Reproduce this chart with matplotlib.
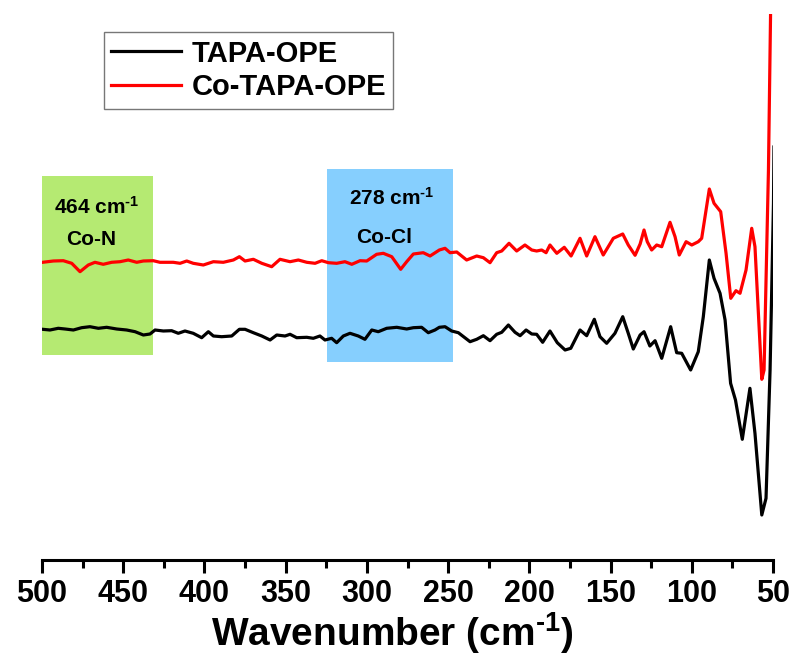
import matplotlib
matplotlib.use("Agg")
import matplotlib.pyplot as plt
from matplotlib.patches import Rectangle

plt.rcParams["font.family"] = ["Liberation Sans", "DejaVu Sans"]
plt.rcParams["font.weight"] = "bold"
plt.rcParams["mathtext.fontset"] = "custom"
plt.rcParams["mathtext.rm"] = "Liberation Sans:bold"
plt.rcParams["mathtext.bf"] = "Liberation Sans:bold"
plt.rcParams["mathtext.default"] = "bf"

# Co-TAPA-OPE (red), wavenumber (cm-1) / intensity (a.u.)
red_wn = [499.6, 493.0, 486.9, 481.7, 476.6, 471.5, 467.4, 462.3, 457.1, 452.0,
          446.9, 441.7, 437.6, 431.5, 427.4, 419.2, 415.0, 410.9, 406.9, 400.7,
          394.5, 388.4, 382.2, 378.5, 375.0, 369.9, 364.7, 358.6, 353.5, 347.3,
          342.2, 337.0, 331.9, 327.8, 323.7, 318.6, 313.5, 309.3, 304.2, 300.1,
          294.0, 289.9, 284.7, 279.2, 275.5, 271.4, 265.3, 261.1, 255.4, 251.9,
          248.8, 244.7, 238.6, 232.4, 228.3, 224.2, 220.1, 217.0, 212.5, 207.8,
          202.7, 198.5, 195.5, 192.4, 189.7, 187.3, 183.1, 178.5, 174.3, 168.8,
          164.7, 159.6, 154.5, 148.3, 142.5, 139.1, 134.9, 131.8, 129.4, 127.4,
          124.7, 121.6, 118.5, 113.4, 110.3, 107.7, 103.5, 100.0, 96.0, 93.9,
          89.2, 86.3, 82.2, 78.9, 76.0, 72.8, 70.3, 66.6, 63.1, 61.1,
          56.9, 55.5, 52.8, 51.5]
red_int = [299.7, 301.0, 301.3, 298.7, 290.3, 297.0, 299.7, 297.7, 299.7, 300.3,
           302.0, 299.7, 301.0, 301.3, 299.7, 299.7, 298.7, 301.0, 298.7, 297.0,
           300.3, 299.7, 302.0, 305.3, 301.0, 302.7, 298.7, 295.3, 302.7, 300.3,
           302.0, 299.7, 298.7, 301.3, 299.3, 298.7, 300.3, 297.7, 301.3, 301.0,
           307.7, 308.7, 305.3, 292.7, 300.3, 308.0, 309.3, 306.0, 312.0, 313.7,
           309.3, 310.0, 302.0, 306.0, 304.3, 299.3, 309.3, 311.0, 318.7, 311.0,
           317.0, 312.0, 311.0, 312.0, 309.3, 317.0, 308.7, 314.7, 306.0, 323.7,
           306.0, 325.3, 307.0, 323.7, 328.0, 317.0, 306.7, 318.0, 332.0, 320.3,
           312.0, 317.0, 315.3, 339.7, 325.3, 307.0, 320.3, 317.0, 320.3, 323.7,
           373.0, 358.7, 350.3, 308.7, 263.7, 271.3, 268.7, 292.0, 333.7, 315.3,
           182.7, 192.0, 392.0, 548.0]

# TAPA-OPE (black)
black_wn = [499.6, 495.1, 490.0, 485.8, 480.7, 475.6, 470.5, 465.3, 460.2, 454.0,
            447.9, 442.7, 437.6, 433.5, 430.4, 425.3, 420.2, 416.1, 412.0, 406.9,
            401.7, 397.6, 394.5, 389.4, 383.2, 378.5, 375.0, 369.9, 364.7, 359.6,
            355.5, 350.4, 347.3, 343.2, 337.0, 333.0, 328.9, 325.8, 321.7, 318.6,
            314.5, 310.4, 305.3, 301.2, 297.0, 293.0, 287.8, 281.6, 275.5, 271.4,
            266.3, 262.2, 258.1, 255.4, 251.9, 247.8, 243.7, 236.5, 232.4, 228.3,
            224.2, 220.1, 217.0, 212.9, 208.8, 205.7, 202.0, 198.5, 195.5, 191.8,
            187.3, 182.8, 178.0, 174.5, 168.8, 164.7, 160.0, 156.5, 152.4, 147.3,
            142.5, 139.1, 136.0, 131.8, 129.4, 125.8, 122.6, 118.5, 113.0, 109.3,
            106.2, 100.7, 96.0, 92.9, 89.2, 86.3, 82.6, 79.5, 76.1, 73.1,
            68.9, 64.2, 61.1, 56.9, 54.3, 51.8, 49.7, 49.4]
black_int = [232.7, 232.0, 233.7, 233.0, 232.0, 234.3, 235.3, 233.7, 234.7, 233.0,
             232.0, 230.3, 227.0, 228.0, 232.0, 231.0, 231.3, 228.7, 231.0, 228.7,
             224.3, 230.3, 226.0, 225.3, 226.0, 232.7, 232.7, 229.3, 226.0, 222.0,
             227.0, 226.0, 227.7, 224.3, 224.7, 223.7, 226.0, 222.0, 223.7, 219.3,
             226.0, 228.7, 226.0, 222.7, 232.0, 230.3, 233.7, 234.7, 233.0, 234.3,
             234.7, 229.3, 232.0, 234.7, 235.3, 231.0, 229.3, 220.3, 222.7, 226.3,
             221.3, 227.7, 229.7, 237.0, 229.7, 226.3, 232.0, 228.0, 227.7, 219.7,
             231.0, 219.3, 212.0, 213.7, 232.0, 226.3, 242.7, 225.3, 218.7, 228.7,
             245.3, 228.7, 213.0, 227.0, 230.3, 216.0, 221.3, 203.7, 235.3, 209.3,
             208.7, 192.0, 210.3, 245.3, 302.0, 283.7, 268.7, 242.0, 178.7, 162.0,
             122.7, 173.7, 128.7, 47.0, 63.7, 192.0, 358.7, 415.0]

# highlighted bands: (wn start, wn end, int low, int high)
green_band = [500.0, 431.7, 207.0, 386.3]
blue_band = [324.7, 246.8, 199.7, 393.0]

xticks = [500, 450, 400, 350, 300, 250, 200, 150, 100, 50]

fig = plt.figure(figsize=(7.99, 6.62), dpi=100)
ax = fig.add_axes([0.05257, 0.15408, 0.91489, 0.82477])

for band, col in [(green_band, "#b5ea72"), (blue_band, "#86cffe")]:
    ax.add_patch(Rectangle((band[1], band[2]), band[0] - band[1], band[3] - band[2],
                           facecolor=col, edgecolor="none", zorder=1))

ax.plot(black_wn, black_int, color="black", lw=2.3, label="TAPA-OPE", zorder=3)
ax.plot(red_wn, red_int, color="#ff0000", lw=2.3, label="Co-TAPA-OPE", zorder=3)

sup = r"$^{\text{-}1}$"
ax.text(466.1, 355.3, "464 cm" + sup, fontsize=15, fontweight="bold",
        ha="center", va="center", zorder=4)
ax.text(469.8, 322.7, "Co-N", fontsize=15, fontweight="bold",
        ha="center", va="center", zorder=4)
ax.text(284.5, 364.0, "278 cm" + sup, fontsize=15, fontweight="bold",
        ha="center", va="center", zorder=4)
ax.text(289.5, 325.0, "Co-Cl", fontsize=15, fontweight="bold",
        ha="center", va="center", zorder=4)

ax.set_xlim(500, 50)
ax.set_ylim(2, 548)
ax.set_xticks(xticks)
ax.set_xticks([475, 425, 375, 325, 275, 225, 175, 125, 75], minor=True)
ax.set_yticks([])
for s in ["left", "right", "top"]:
    ax.spines[s].set_visible(False)
ax.spines["bottom"].set_linewidth(2.2)
ax.tick_params(axis="x", which="major", length=9.5, width=2.2, labelsize=22, pad=4)
ax.tick_params(axis="x", which="minor", length=6, width=2.2)
ax.set_xlabel("Wavenumber (cm" + sup + ")", fontsize=28, fontweight="bold", labelpad=0)
ax.xaxis.set_label_coords(0.479, -0.092)

leg = ax.legend(loc="upper left", bbox_to_anchor=(0.1302, 0.9512),
                bbox_transform=fig.transFigure, fontsize=21, frameon=True,
                fancybox=False, edgecolor="#555555", handlelength=2.4,
                handletextpad=0.35, labelspacing=0.2, borderpad=0.25,
                borderaxespad=0)
leg.get_frame().set_linewidth(1.0)
for t in leg.get_texts():
    t.set_fontweight("bold")

fig.savefig("out.png", dpi=100)
